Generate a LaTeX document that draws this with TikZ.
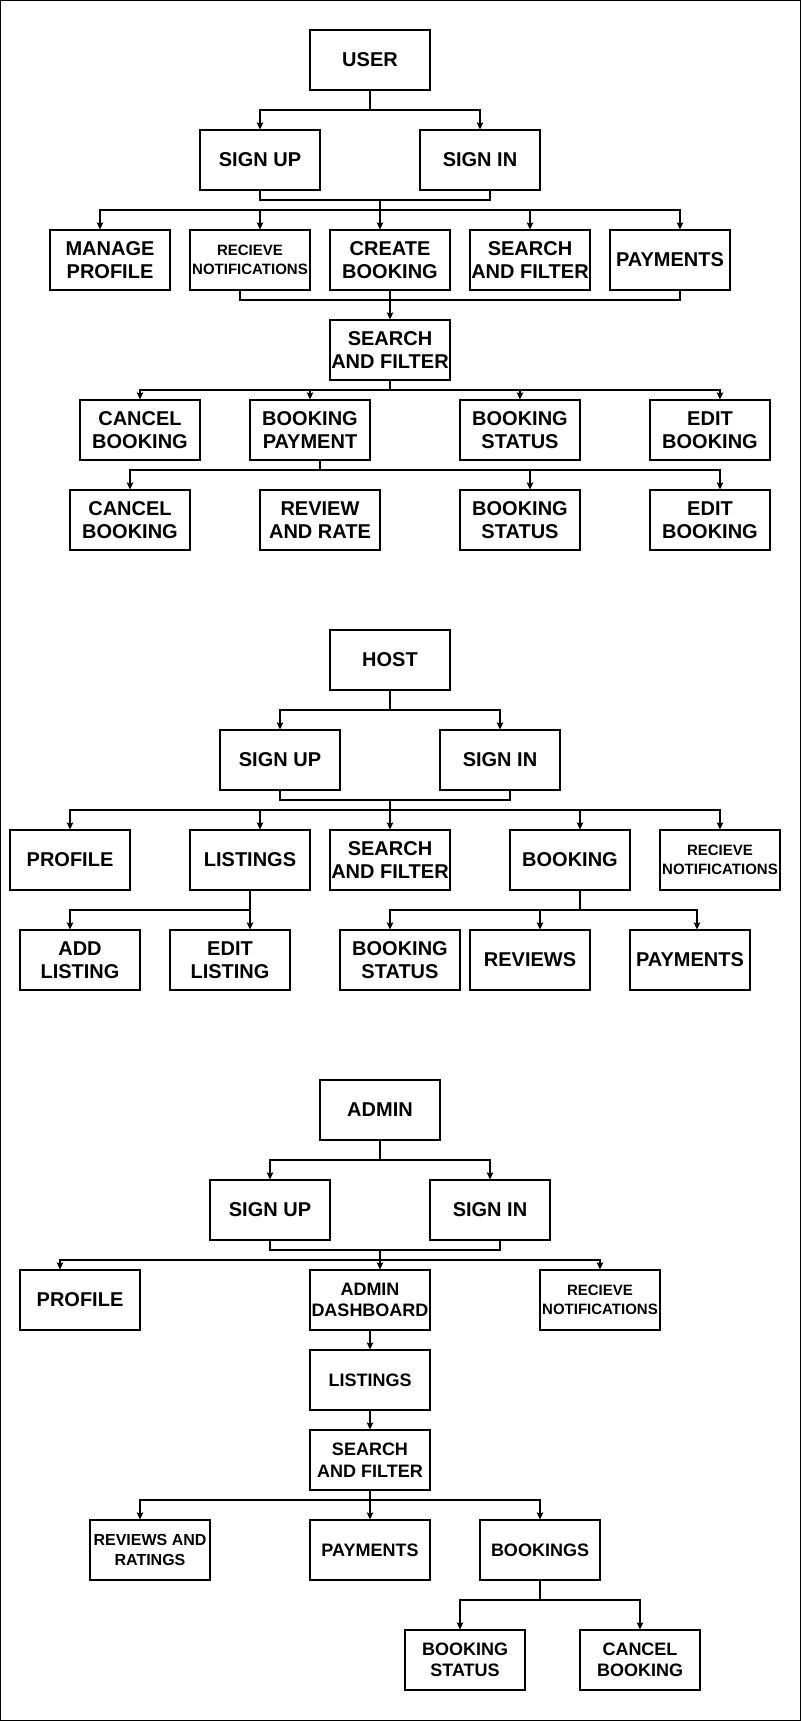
\documentclass[tikz,border=0pt]{standalone}
\usepackage{fontspec}
\setmainfont{Liberation Sans}
\usepackage{tikz}
\usetikzlibrary{arrows.meta}
\tikzset{>={Stealth[length=7pt,width=6.5pt,inset=1pt]}}
\tikzstyle{block}=[draw,line width=1.1pt,minimum width=120pt,minimum height=60pt,inner sep=0pt,align=center,font=\bfseries\fontsize{20}{23.5}\selectfont]
\tikzstyle{notefont}=[font=\bfseries\fontsize{15}{18.5}\selectfont]
\tikzstyle{midfont}=[font=\bfseries\fontsize{18}{21.5}\selectfont]
\tikzstyle{ratefont}=[font=\bfseries\fontsize{16}{20}\selectfont]
\tikzstyle{link}=[line width=1.1pt]
\tikzstyle{flow}=[->,line width=1.1pt]
\def\W{801}
\def\H{1721}

\begin{document}
\begin{tikzpicture}[x=1pt,y=-1pt]
  
  \useasboundingbox (0,0) rectangle (\W,\H);
  \draw[line width=1.2pt] (0.6,0.6) rectangle (\W-0.6,\H-0.6);
  
  % USER
  \node[block] (user) at (370,60) {USER};
  \node[block] (signupU) at (260,160) {SIGN UP};
  \node[block] (signinU) at (480,160) {SIGN IN};
  \node[block] (profileU) at (110,260) {MANAGE\\PROFILE};
  \node[block,notefont] (notifyU) at (250,260) {RECIEVE\\NOTIFICATIONS};
  \node[block] (createU) at (390,260) {CREATE\\BOOKING};
  \node[block] (searchU) at (530,260) {SEARCH\\AND FILTER};
  \node[block] (payU) at (670,260) {PAYMENTS};
  \node[block] (filterU) at (390,350) {SEARCH\\AND FILTER};
  \node[block] (cancelU) at (140,430) {CANCEL\\BOOKING};
  \node[block] (bookpayU) at (310,430) {BOOKING\\PAYMENT};
  \node[block] (statusU) at (520,430) {BOOKING\\STATUS};
  \node[block] (editU) at (710,430) {EDIT\\BOOKING};
  \node[block] (cancelUU) at (130,520) {CANCEL\\BOOKING};
  \node[block] (reviewU) at (320,520) {REVIEW\\AND RATE};
  \node[block] (statusUU) at (520,520) {BOOKING\\STATUS};
  \node[block] (editUU) at (710,520) {EDIT\\BOOKING};
  
  \coordinate (u1) at (370,110);
  \coordinate (u2) at (380,200);
  \coordinate (u3) at (380,210);
  \coordinate (u4) at (390,300);
  \coordinate (u5) at (390,390);
  \coordinate (u6) at (320,470);
  
  \draw[link] (user.south) -- (u1);
  \draw[flow] (u1) -| (signupU.north);
  \draw[flow] (u1) -| (signinU.north);
  \draw[link] (signupU.south) |- (u2) -| ([xshift=10pt]signinU.south);
  \draw[flow] (u2) -- ([xshift=-10pt]createU.north);
  \foreach \n/\s in {profileU/-10,notifyU/10,searchU/0,payU/10}{
    \draw[flow] (u3) -| ([xshift=\s pt]\n.north);
  }
  \draw[link] ([xshift=-10pt]notifyU.south) |- (u4) -| ([xshift=10pt]payU.south);
  \draw[flow] (createU.south) -- (filterU.north);
  \draw[link] (filterU.south) -- (u5);
  \foreach \n/\s in {cancelU/0,bookpayU/0,statusU/0,editU/10}{
    \draw[flow] (u5) -| ([xshift=\s pt]\n.north);
  }
  \draw[link] ([xshift=10pt]bookpayU.south) -- (u6);
  \foreach \n/\s in {cancelUU/0,statusUU/10,editUU/10}{
    \draw[flow] (u6) -| ([xshift=\s pt]\n.north);
  }
  
  % HOST
  \node[block] (host) at (390,660) {HOST};
  \node[block] (signupH) at (280,760) {SIGN UP};
  \node[block] (signinH) at (500,760) {SIGN IN};
  \node[block] (profileH) at (70,860) {PROFILE};
  \node[block] (listingsH) at (250,860) {LISTINGS};
  \node[block] (searchH) at (390,860) {SEARCH\\AND FILTER};
  \node[block] (bookingH) at (570,860) {BOOKING};
  \node[block,notefont] (notifyH) at (720,860) {RECIEVE\\NOTIFICATIONS};
  \node[block] (addH) at (80,960) {ADD\\LISTING};
  \node[block] (editH) at (230,960) {EDIT\\LISTING};
  \node[block] (statusH) at (400,960) {BOOKING\\STATUS};
  \node[block] (reviewsH) at (530,960) {REVIEWS};
  \node[block] (payH) at (690,960) {PAYMENTS};
  
  \coordinate (h1) at (390,710);
  \coordinate (h2) at (390,800);
  \coordinate (h3) at (390,810);
  \coordinate (h4) at (250,910);
  \coordinate (h5) at (580,910);
  
  \draw[link] (host.south) -- (h1);
  \draw[flow] (h1) -| (signupH.north);
  \draw[flow] (h1) -| (signinH.north);
  \draw[link] (signupH.south) |- (h2) -| ([xshift=10pt]signinH.south);
  \draw[flow] (h2) -- (searchH.north);
  \foreach \n/\s in {profileH/0,listingsH/10,bookingH/10,notifyH/0}{
    \draw[flow] (h3) -| ([xshift=\s pt]\n.north);
  }
  \draw[flow] (listingsH.south) -- ([xshift=20pt]editH.north);
  \draw[flow] (h4) -| ([xshift=-10pt]addH.north);
  \draw[link] ([xshift=10pt]bookingH.south) -- (h5);
  \foreach \n/\s in {statusH/-10,reviewsH/10,payH/7}{
    \draw[flow] (h5) -| ([xshift=\s pt]\n.north);
  }
  
  % ADMIN
  \node[block] (admin) at (380,1110) {ADMIN};
  \node[block] (signupA) at (270,1210) {SIGN UP};
  \node[block] (signinA) at (490,1210) {SIGN IN};
  \node[block] (profileA) at (80,1300) {PROFILE};
  \node[block,midfont] (dashA) at (370,1300) {ADMIN\\DASHBOARD};
  \node[block,notefont] (notifyA) at (600,1300) {RECIEVE\\NOTIFICATIONS};
  \node[block,midfont] (listingsA) at (370,1380) {LISTINGS};
  \node[block,midfont] (searchA) at (370,1460) {SEARCH\\AND FILTER};
  \node[block,ratefont] (reviewsA) at (150,1550) {REVIEWS AND\\RATINGS};
  \node[block,midfont] (payA) at (370,1550) {PAYMENTS};
  \node[block,midfont] (bookingsA) at (540,1550) {BOOKINGS};
  \node[block,midfont] (statusA) at (465,1660) {BOOKING\\STATUS};
  \node[block,midfont] (cancelA) at (640,1660) {CANCEL\\BOOKING};
  
  \coordinate (a1) at (380,1160);
  \coordinate (a2) at (380,1250);
  \coordinate (a3) at (380,1260);
  \coordinate (a4) at (370,1500);
  \coordinate (a5) at (540,1600);
  
  \draw[link] (admin.south) -- (a1);
  \draw[flow] (a1) -| (signupA.north);
  \draw[flow] (a1) -| (signinA.north);
  \draw[link] (signupA.south) |- (a2) -| ([xshift=10pt]signinA.south);
  \draw[flow] (a2) -- ([xshift=10pt]dashA.north);
  \draw[flow] (a3) -| ([xshift=-20pt]profileA.north);
  \draw[flow] (a3) -| (notifyA.north);
  \draw[flow] (dashA.south) -- (listingsA.north);
  \draw[flow] (listingsA.south) -- (searchA.north);
  \draw[link] (searchA.south) -- (a4);
  \draw[flow] (a4) -| ([xshift=-10pt]reviewsA.north);
  \draw[flow] (a4) -- (payA.north);
  \draw[flow] (a4) -| (bookingsA.north);
  \draw[link] (bookingsA.south) -- (a5);
  \draw[flow] (a5) -| ([xshift=-5pt]statusA.north);
  \draw[flow] (a5) -| (cancelA.north);
  
\end{tikzpicture}
\end{document}
